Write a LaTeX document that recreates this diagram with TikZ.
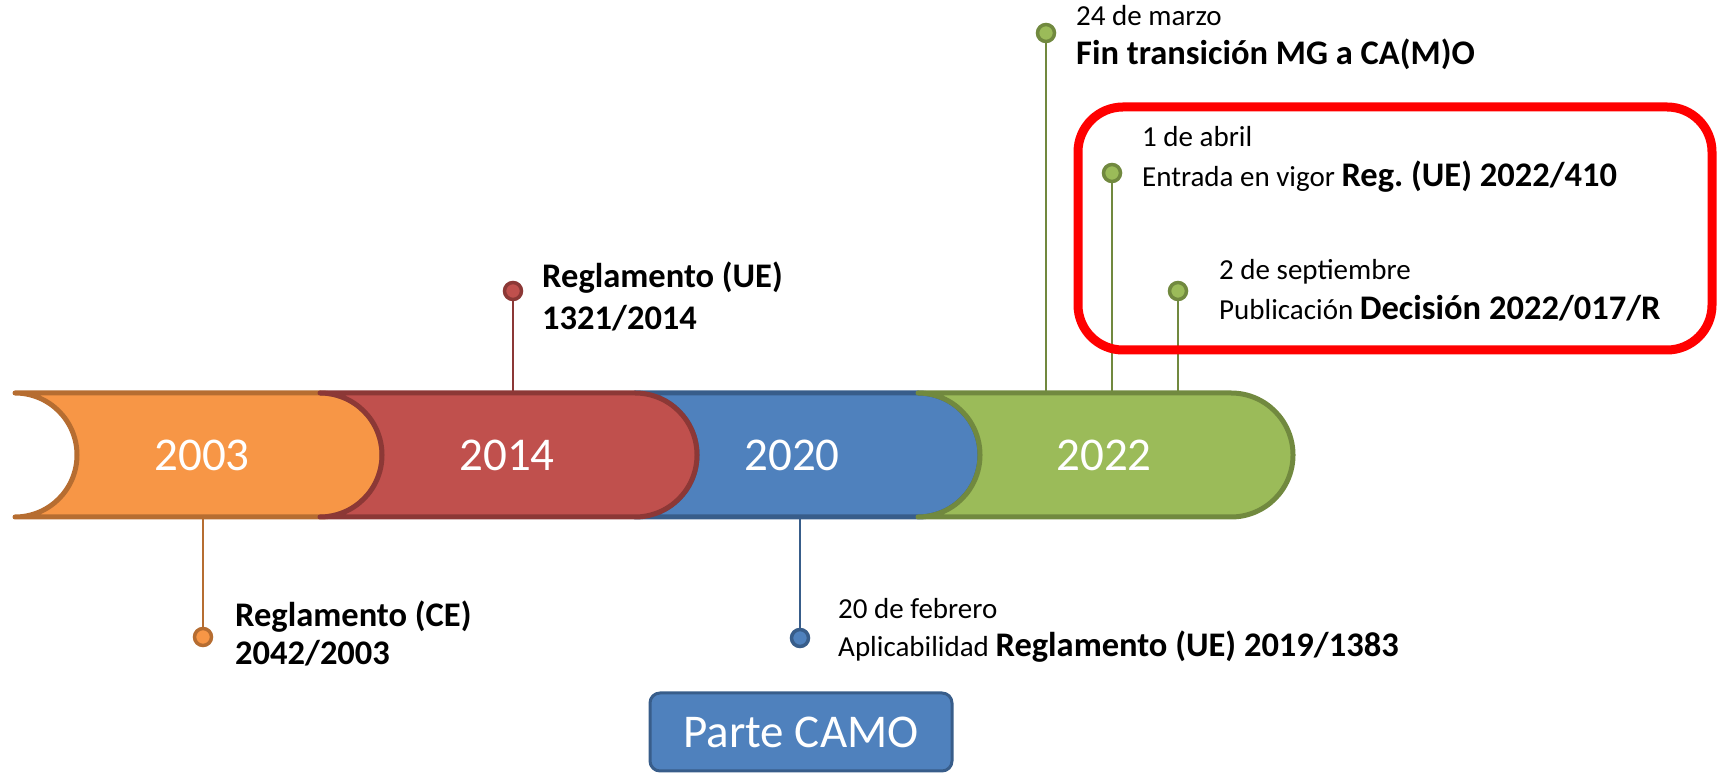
\documentclass[tikz,border=0pt]{standalone}
\usepackage{fontspec}
\setmainfont{Carlito}
\frenchspacing
\definecolor{orF}{HTML}{F79646}\definecolor{orD}{HTML}{B66D31}
\definecolor{rdF}{HTML}{C0504D}\definecolor{rdD}{HTML}{8C3836}
\definecolor{blF}{HTML}{4F81BD}\definecolor{blD}{HTML}{385D8A}
\definecolor{grF}{HTML}{9BBB59}\definecolor{grD}{HTML}{71893F}
\definecolor{hlred}{HTML}{FF0000}
\begin{document}
\begin{tikzpicture}[x=1pt,y=1pt,
  seg/.style={line width=5pt,line join=round,line cap=round},
  stem/.style={line width=2pt},
  dot/.style={circle,line width=3.5pt,minimum size=17pt,inner sep=0pt},
  yearlbl/.style={text=white,inner sep=0pt,font=\fontsize{47}{56}\selectfont},
  reg/.style={inner sep=0pt,anchor=base west,font=\fontsize{29}{35}\selectfont},
  boldlbl/.style={inner sep=0pt,anchor=base west,font=\fontsize{34.5}{41}\selectfont\bfseries},
  camo/.style={draw=blD,fill=blF,line width=3pt,rounded corners=10pt,text=white,
    minimum width=302pt,minimum height=78pt,font=\fontsize{47}{56}\selectfont}]
\useasboundingbox (0,0) rectangle (1720,773);
% band segments
\draw[seg,draw=orD,fill=orF] (15,380) -- (320,380) arc[start angle=90,end angle=-90,radius=62pt] -- (15,256) arc[start angle=-90,end angle=90,radius=62pt] -- cycle;
\draw[seg,draw=blD,fill=blF] (635,380) -- (918,380) arc[start angle=90,end angle=-90,radius=62pt] -- (635,256) arc[start angle=-90,end angle=90,radius=62pt] -- cycle;
\draw[seg,draw=rdD,fill=rdF] (320,380) -- (635,380) arc[start angle=90,end angle=-90,radius=62pt] -- (320,256) arc[start angle=-90,end angle=90,radius=62pt] -- cycle;
\draw[seg,draw=grD,fill=grF] (918,380) -- (1231,380) arc[start angle=90,end angle=-90,radius=62pt] -- (918,256) arc[start angle=-90,end angle=90,radius=62pt] -- cycle;
% years
\node[yearlbl] (y1) at (202,318) {2003};
\node[yearlbl] (y2) at (507,318) {2014};
\node[yearlbl] (y3) at (792,318) {2020};
\node[yearlbl] (y4) at (1104,318) {2022};
% stems
\coordinate (b1) at (203,258);
\coordinate (b2) at (513,378);
\coordinate (b3) at (800,258);
\coordinate (b4) at (1046,378);
\coordinate (b5) at (1112,378);
\coordinate (b6) at (1178,378);
\node[dot,draw=orD,fill=orF] (d1) at (203,136) {};
\node[dot,draw=rdD,fill=rdF] (d2) at (513,482) {};
\node[dot,draw=blD,fill=blF] (d3) at (800,135) {};
\node[dot,draw=grD,fill=grF] (d4) at (1046,740) {};
\node[dot,draw=grD,fill=grF] (d5) at (1112,600) {};
\node[dot,draw=grD,fill=grF] (d6) at (1178,482) {};
\draw[stem,orD] (b1) -- (d1);
\draw[stem,rdD] (b2) -- (d2);
\draw[stem,blD] (b3) -- (d3);
\draw[stem,grD] (b4) -- (d4);
\draw[stem,grD] (b5) -- (d5);
\draw[stem,grD] (b6) -- (d6);
% texts
\node[boldlbl] (t1a) at (235,146) {Reglamento (CE)};
\node[boldlbl] (t1b) at (235,108) {2042/2003};
\node[boldlbl] (t2a) at (542,485) {Reglamento (UE)};
\node[boldlbl] (t2b) at (542,443) {1321/2014};
\node[reg] (t3a) at (838,154) {20 de febrero};
\node[reg] (t3b) at (838,116) {Aplicabilidad {\fontsize{34.5}{41}\selectfont\bfseries Reglamento (UE) 2019/1383}};
\node[reg] (t4a) at (1076,747) {24 de marzo};
\node[boldlbl] (t4b) at (1076,708) {Fin transición MG a CA(M)O};
\node[reg] (t5a) at (1142,626) {1 de abril};
\node[reg] (t5b) at (1142,586) {Entrada en vigor {\fontsize{34.5}{41}\selectfont\bfseries Reg. (UE) 2022/410}};
\node[reg] (t6a) at (1219,493) {2 de septiembre};
\node[reg] (t6b) at (1219,453) {Publicación {\fontsize{34.5}{41}\selectfont\bfseries Decisión 2022/017/R}};
% highlight box
\node[draw=hlred,line width=9pt,rounded corners=45pt,minimum width=634pt,minimum height=243pt,inner sep=0pt] (hl) at (1395,544.5) {};
% Parte CAMO
\node[camo] (camo) at (801,41) {\raisebox{-5pt}{Parte CAMO}};
\end{tikzpicture}
\end{document}
